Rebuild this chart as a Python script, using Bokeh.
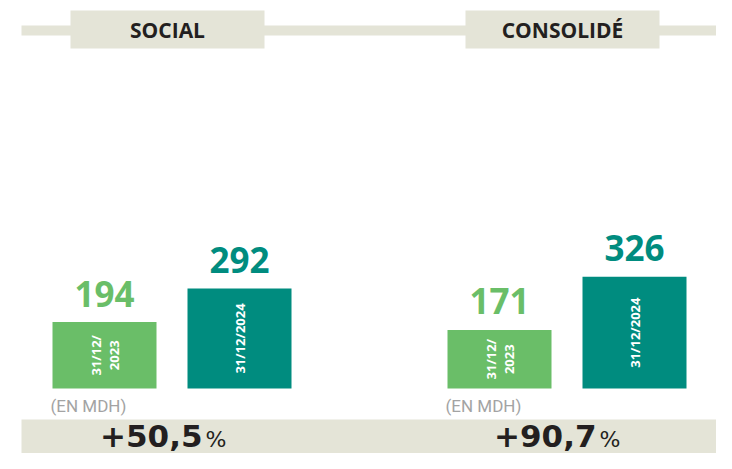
import math
from bokeh.plotting import figure
from bokeh.models import Range1d, ColumnDataSource
from bokeh.core.properties import value
from bokeh.embed import file_html
from bokeh.resources import INLINE

# ---- data ----
groups = ["SOCIAL", "CONSOLIDÉ"]
periods = ["31/12/\n2023", "31/12/2024"]
social_values = [194, 292]
consolide_values = [171, 326]
growth_labels = ["+50,5", "+90,7"]
unit_label = "(EN MDH)"

# ---- layout / style ----
W, H = 716, 453
BASE = 388          # pixel row of the zero line
SCALE = 0.3427      # pixels per unit
GREEN = "#6abe68"
TEAL = "#008c7f"
BAND = "#e4e4d7"
DARK = "#231f20"
FONT = "Open Sans"

bar_group_centers = [171.5, 566.5]
bar_half_step = 67.5
bar_width = 104
band_centers = [167, 562]
growth_centers = [165, 559]

p = figure(width=W, height=H, output_backend="svg", toolbar_location=None,
           x_range=Range1d(0, W),
           y_range=Range1d((BASE - H) / SCALE, BASE / SCALE),
           x_axis_type=None, y_axis_type=None, min_border=0,
           outline_line_color=None, background_fill_color="white")
p.extra_y_ranges = {"px": Range1d(H, 0)}
p.xgrid.visible = False
p.ygrid.visible = False

# title band
p.rect(x=[(21 + 720) / 2], y=[30], width=[699], height=[10],
       fill_color=BAND, line_color=None, y_range_name="px")
p.rect(x=band_centers, y=[29, 29], width=194, height=38,
       fill_color=BAND, line_color=None, y_range_name="px")
p.text(x=band_centers, y=[29.5, 29.5], text=groups, text_align="center",
       text_baseline="middle", text_font=value(FONT), text_font_style="bold",
       text_font_size="21px", text_color=DARK, y_range_name="px")

# bars
xs, vals, cols, labs = [], [], [], []
for gc, gv in zip(bar_group_centers, [social_values, consolide_values]):
    for i, v in enumerate(gv):
        xs.append(gc + (-bar_half_step if i == 0 else bar_half_step))
        vals.append(v)
        cols.append(GREEN if i == 0 else TEAL)
        labs.append(periods[i])
src = ColumnDataSource(dict(x=xs, top=vals, mid=[v / 2 for v in vals],
                            color=cols, lab=labs, val=[str(v) for v in vals]))
p.vbar(x="x", top="top", bottom=0, width=bar_width, fill_color="color",
       line_color=None, source=src)
p.text(x="x", y="top", text="val", y_offset=-28.5, text_align="center",
       text_baseline="middle", text_font=value(FONT), text_font_style="bold",
       text_font_size="35px", text_color="color", source=src)
p.text(x="x", y="mid", text="lab", angle=math.pi / 2, text_align="center",
       text_baseline="middle", text_font=value(FONT), text_font_style="bold",
       text_font_size="13px", text_line_height=1.0, text_color="white",
       source=src)

# unit labels
p.text(x=[c - bar_half_step - bar_width / 2 - 2 for c in bar_group_centers],
       y=[0, 0], text=[unit_label, unit_label], y_offset=17, text_align="left",
       text_baseline="middle", text_font=value("Roboto"),
       text_font_size="17px", text_color="#a3a3a3")

# bottom band
p.rect(x=[(21 + 720) / 2], y=[444], width=[699], height=[50],
       fill_color=BAND, line_color=None, y_range_name="px")
p.text(x=[c + 37 for c in growth_centers], y=[435, 435], text=growth_labels,
       text_align="right", text_baseline="middle", text_font=value("DejaVu Sans"),
       text_font_style="bold", text_font_size="31px", text_color=DARK,
       y_range_name="px")
p.text(x=[c + 40 for c in growth_centers], y=[439, 439], text=["%", "%"],
       text_align="left", text_baseline="middle", text_font=value("DejaVu Sans"),
       text_font_size="22px", text_color=DARK, y_range_name="px")

open("out.html", "w").write(file_html(p, INLINE))
